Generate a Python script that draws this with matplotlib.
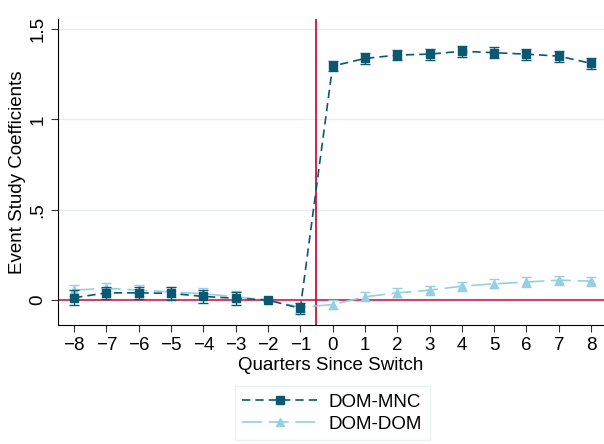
import numpy as np
import matplotlib.pyplot as plt
from matplotlib.lines import Line2D

plt.rcParams['font.family'] = ['Liberation Sans', 'DejaVu Sans']

quarters = list(range(-8, 9))
mnc_coef = [0.013, 0.04, 0.04, 0.037, 0.02, 0.01, 0.0, -0.046,
            1.295, 1.337, 1.356, 1.361, 1.377, 1.369, 1.361, 1.350, 1.310]
mnc_err = [0.04, 0.035, 0.035, 0.035, 0.035, 0.035, 0.0, 0.03,
           0.03, 0.03, 0.03, 0.03, 0.03, 0.03, 0.03, 0.03, 0.03]
dom_coef = [0.055, 0.065, 0.055, 0.045, 0.035, 0.018, 0.0, -0.04,
            -0.025, 0.018, 0.04, 0.055, 0.077, 0.09, 0.10, 0.11, 0.105]
dom_err = [0.03, 0.03, 0.03, 0.03, 0.03, 0.03, 0.0, 0.025,
           0.025, 0.025, 0.025, 0.025, 0.025, 0.025, 0.025, 0.025, 0.025]
ytick_vals = [0, 0.5, 1, 1.5]
ytick_labels = ["0", ".5", "1", "1.5"]

MNC_COLOR = "#0b5872"
DOM_COLOR = "#94cfe2"
FS = 13.5

fig = plt.figure(figsize=(6.04, 4.44), dpi=100)
ax = fig.add_axes([0.096, 0.268, 0.904, 0.689])

for y in ytick_vals:
    ax.axhline(y, color="#e6eeee", lw=1, zorder=0)

ax.axhline(0, color="#cf4468", lw=1.5, zorder=1)
ax.axvline(-0.5, color="#d0103a", lw=1.3, zorder=1)

dom_ls = (0, (12, 4))
mnc_ls = (0, (5, 3))
ax.errorbar(quarters, dom_coef, yerr=dom_err, color=DOM_COLOR, marker="^",
            markersize=6, ls=dom_ls, lw=1.2, capsize=3.5, elinewidth=1, zorder=3)
ax.errorbar(quarters, mnc_coef, yerr=mnc_err, color=MNC_COLOR, marker="s",
            markersize=5.5, ls=mnc_ls, lw=1.2, capsize=3.5, elinewidth=1, zorder=4)

ax.set_xlim(-8.5, 8.4)
ax.set_ylim(-0.138, 1.555)
ax.set_xticks(quarters)
ax.set_yticks(ytick_vals)
ax.set_yticklabels(ytick_labels, rotation=90, va="center")
ax.tick_params(labelsize=FS, length=5, color="#333333")
ax.spines["top"].set_visible(False)
ax.spines["right"].set_visible(False)
ax.set_xlabel("Quarters Since Switch", fontsize=FS, labelpad=2)
ax.set_ylabel("Event Study Coefficients", fontsize=FS, labelpad=2)

handles = [
    Line2D([], [], color=MNC_COLOR, marker="s", markersize=5.5, ls=mnc_ls, lw=1.2),
    Line2D([], [], color=DOM_COLOR, marker="^", markersize=6, ls=dom_ls, lw=1.2),
]
fig.legend(handles, ["DOM-MNC", "DOM-DOM"], loc="center",
           bbox_to_anchor=(0.55, 0.069), fontsize=FS, frameon=True,
           fancybox=False, edgecolor="#e6eeee", handlelength=4.0,
           borderpad=0.4, labelspacing=0.25, handletextpad=0.6)

fig.savefig("out.png", dpi=100)
